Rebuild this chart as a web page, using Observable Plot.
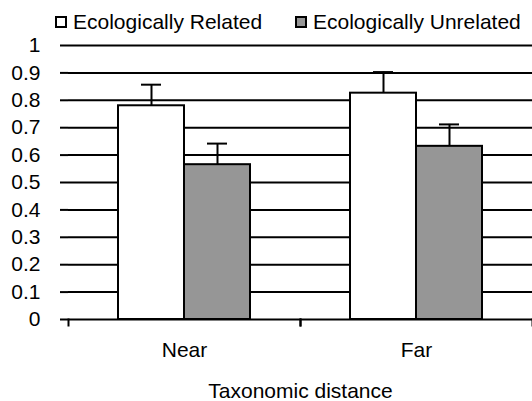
<!DOCTYPE html>
<html>
<head>
<meta charset="utf-8">
<script src="https://cdn.jsdelivr.net/npm/d3@7"></script>
<script src="https://cdn.jsdelivr.net/npm/@observablehq/plot@0.6"></script>
<style>
  body { margin: 0; background: white; font-family: "Liberation Sans", Arial, sans-serif; }
  #legend { height: 30px; position: relative; font-size: 21px; color: black; }
  .item { position: absolute; top: 10px; display: flex; align-items: center; white-space: nowrap; line-height: 24px; }
  .sw { width: 8px; height: 8px; border: 2px solid black; margin-right: 6px; }
</style>
</head>
<body>
<div id="legend"></div>
<div id="chart"></div>
<script>
const categories = ["Near", "Far"];
const series = ["Ecologically Related", "Ecologically Unrelated"];
const relatedValues = [0.78, 0.826];
const relatedErrors = [0.077, 0.077];
const unrelatedValues = [0.565, 0.632];
const unrelatedErrors = [0.077, 0.08];
const yTicks = [0, 0.1, 0.2, 0.3, 0.4, 0.5, 0.6, 0.7, 0.8, 0.9, 1];
const colors = ["white", "#969696"];
const xTitle = "Taxonomic distance";

const rows = [];
categories.forEach((c, i) => {
  rows.push({category: c, series: series[0], value: relatedValues[i], err: relatedErrors[i]});
  rows.push({category: c, series: series[1], value: unrelatedValues[i], err: unrelatedErrors[i]});
});

// legend
const legend = document.getElementById("legend");
const legendLeft = [55, 295];
series.forEach((s, i) => {
  const item = document.createElement("div");
  item.className = "item";
  item.style.left = legendLeft[i] + "px";
  const sw = document.createElement("div");
  sw.className = "sw";
  sw.style.background = colors[i];
  const t = document.createElement("span");
  t.textContent = s;
  item.appendChild(sw);
  item.appendChild(t);
  legend.appendChild(item);
});

const chart = Plot.plot({
  width: 532,
  height: 371,
  marginTop: 15,
  marginBottom: 82,
  marginLeft: 68,
  marginRight: 0,
  style: {fontFamily: "'Liberation Sans', Arial, sans-serif", fontSize: "21px", color: "black", background: "white", overflow: "visible"},
  fx: {domain: categories, padding: 0},
  x: {domain: series, paddingInner: 0, paddingOuter: 0.74, axis: null},
  y: {domain: [0, 1], axis: null},
  color: {domain: series, range: colors},
  marks: [
    Plot.ruleY(yTicks.filter(d => d > 0), {y: d => d, stroke: "black", strokeWidth: 2}),
    Plot.barY(rows, {fx: "category", x: "series", y: "value", fill: "series", stroke: "black", strokeWidth: 2}),
    Plot.ruleX(rows, {fx: "category", x: "series", y1: "value", y2: d => d.value + d.err, stroke: "black", strokeWidth: 2}),
    Plot.tickY(rows, {fx: "category", x: "series", y: d => d.value + d.err, insetLeft: 23, insetRight: 23, stroke: "black", strokeWidth: 2}),
    Plot.ruleY([0], {stroke: "black", strokeWidth: 2}),
    Plot.axisY({ticks: yTicks, tickSize: 8, tickPadding: 20, tickFormat: d => String(+d.toFixed(1)), fontSize: 21, strokeWidth: 2, stroke: "black", line: true, label: null}),
    Plot.frame({anchor: "left", insetTop: 274, insetBottom: -6, stroke: "black", strokeWidth: 2}),
    Plot.frame({anchor: "right", insetTop: 274, insetBottom: -6, stroke: "black", strokeWidth: 2}),
    Plot.axisFx({anchor: "bottom", tickSize: 0, tickPadding: 23, fontSize: 21, label: xTitle, labelAnchor: "center", labelOffset: 78})
  ]
});
document.getElementById("chart").appendChild(chart);
</script>
</body>
</html>
